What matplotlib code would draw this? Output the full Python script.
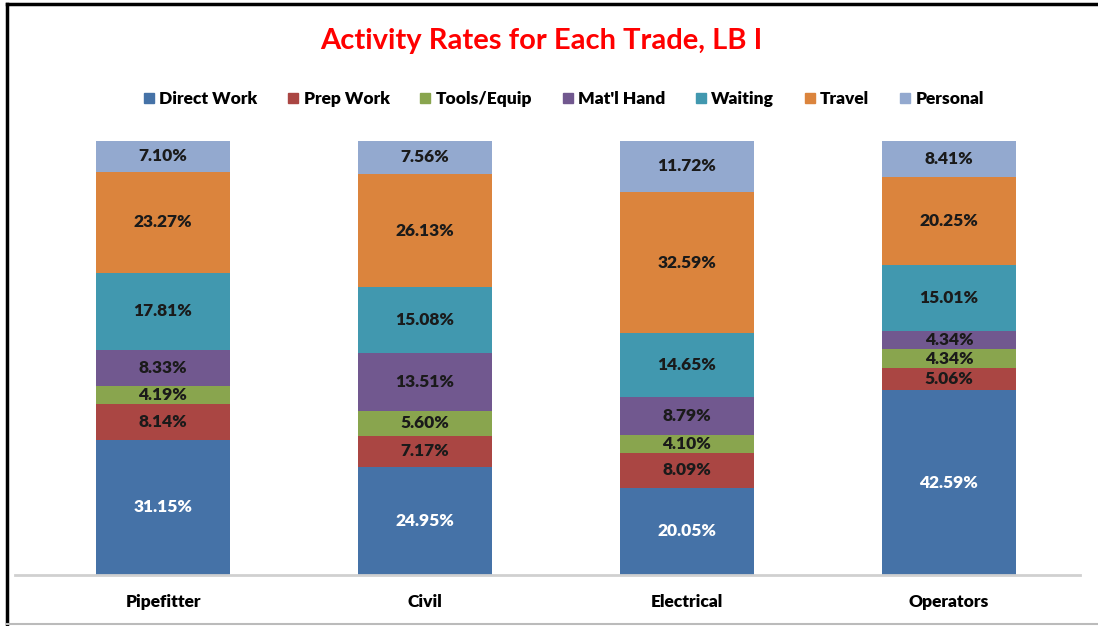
import matplotlib.pyplot as plt
from matplotlib.lines import Line2D

# Данные
trades = ['Pipefitter', 'Civil', 'Electrical', 'Operators']
activities = ['Direct Work', 'Prep Work', 'Tools/Equip', "Mat'l Hand", 'Waiting', 'Travel', 'Personal']
direct_work = [31.15, 24.95, 20.05, 42.59]
prep_work = [8.14, 7.17, 8.09, 5.06]
tools_equip = [4.19, 5.60, 4.10, 4.34]
matl_hand = [8.33, 13.51, 8.79, 4.34]
waiting = [17.81, 15.08, 14.65, 15.01]
travel = [23.27, 26.13, 32.59, 20.25]
personal = [7.10, 7.56, 11.72, 8.41]

series = [direct_work, prep_work, tools_equip, matl_hand, waiting, travel, personal]
colors = ['#4572A7', '#AA4643', '#89A54E', '#71588F', '#4198AF', '#DB843D', '#93A9CF']
font = 'Lato'

fig = plt.figure(figsize=(10.98, 6.26), dpi=100)
ax = fig.add_axes([15 / 1098, 51 / 626, 1065 / 1098, 434 / 626])

x = range(len(trades))
bottom = [0.0] * len(trades)
for name, vals, col in zip(activities, series, colors):
    ax.bar(x, vals, width=0.51, bottom=bottom, color=col, label=name)
    for i, v in enumerate(vals):
        txt_col = 'white' if name == 'Direct Work' else '#1a1a1a'
        ax.text(i, bottom[i] + v / 2, f'{v:.2f}%', ha='center', va='center',
                fontsize=12.5, fontweight='heavy', color=txt_col, family=font)
    bottom = [b + v for b, v in zip(bottom, vals)]

ax.set_xlim(-0.565, 3.5)
ax.set_ylim(0, 100)
ax.set_yticks([])
ax.set_xticks(list(x))
ax.set_xticklabels(trades, fontsize=12.5, fontweight='heavy', family=font)
ax.tick_params(axis='x', length=0, pad=14)
for s in ['top', 'right', 'left']:
    ax.spines[s].set_visible(False)
ax.spines['bottom'].set_color('#d0d0d0')
ax.spines['bottom'].set_linewidth(2)

# Заголовок
fig.text(0.493, 0.935, 'Activity Rates for Each Trade, LB I', ha='center', va='center',
         fontsize=21, fontweight='bold', color='#ff0000', family=font)

# Легенда
handles = [Line2D([], [], marker='s', linestyle='', markersize=7, color=c) for c in colors]
fig.legend(handles, activities, loc='center', bbox_to_anchor=(0.511, 0.842), ncol=7,
           frameon=False, handletextpad=0.0, columnspacing=1.45, handlelength=1.2,
           prop={'family': font, 'weight': 'heavy', 'size': 12.5})

# Рамка
fig.add_artist(Line2D([7 / 1098, 1], [1 - 4 / 626, 1 - 4 / 626], color='black', lw=2.5, transform=fig.transFigure))
fig.add_artist(Line2D([7 / 1098, 7 / 1098], [2 / 626, 1 - 4 / 626], color='black', lw=2.5, transform=fig.transFigure))
fig.add_artist(Line2D([7 / 1098, 1], [2 / 626, 2 / 626], color='#bbbbbb', lw=1.5, transform=fig.transFigure))

fig.savefig('out.png', dpi=100)
